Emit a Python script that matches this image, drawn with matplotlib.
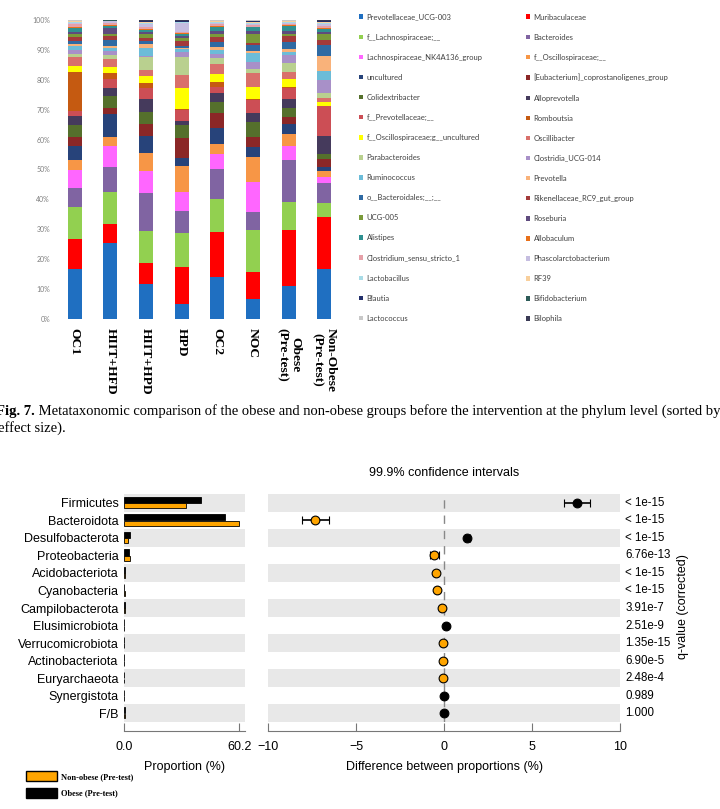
import numpy as np
import matplotlib.pyplot as plt
from matplotlib.patches import Patch
from matplotlib.transforms import blended_transform_factory

W, H = 720, 809

# ---------------- top: genus level relative abundance ----------------
genera = ['Prevotellaceae_UCG-003', 'Muribaculaceae', 'f__Lachnospiraceae;__', 'Bacteroides',
          'Lachnospiraceae_NK4A136_group', 'f__Oscillospiraceae;__', 'uncultured',
          '[Eubacterium]_coprostanoligenes_group', 'Colidextribacter', 'Alloprevotella',
          'f__Prevotellaceae;__', 'Romboutsia', 'f__Oscillospiraceae;g__uncultured', 'Oscillibacter',
          'Parabacteroides', 'Clostridia_UCG-014', 'Ruminococcus', 'Prevotella',
          'o__Bacteroidales;__;__', 'Rikenellaceae_RC9_gut_group', 'UCG-005', 'Roseburia',
          'Alistipes', 'Allobaculum', 'Clostridium_sensu_stricto_1', 'Phascolarctobacterium',
          'Lactobacillus', 'RF39', 'Blautia', 'Bifidobacterium', 'Lactococcus', 'Bilophila']
genus_colors = ['#1f6fc1', '#ff0000', '#92d050', '#8064a2', '#ff66ff', '#f79646', '#27437a',
                '#8b2727', '#55702c', '#453a5c', '#cc4e55', '#c55a11', '#ffff00', '#d9706b',
                '#b9d08f', '#a890c8', '#6cbcd8', '#f9b27a', '#2f6aa3', '#a33a3a', '#7a9a3a',
                '#5f4b7e', '#2f9090', '#e8701a', '#e6a0a8', '#c5bde0', '#a8dbe6', '#f8cf9c',
                '#232f6b', '#2d5b58', '#c8c8c8', '#3a3a55']
groups = ['OC1', 'HIIT+HFD', 'HIIT+HPD', 'HPD', 'OC2', 'NOC', 'Obese\n(Pre-test)', 'Non-Obese\n(Pre-test)']

oc1 = [16.6, 10.2, 10.6, 6.4, 6.2, 3.2, 4.8, 2.8, 4.0, 3.1, 1.8, 12.8, 2.2, 2.8, 1.1, 1.3,
       1.4, 0.6, 1.1, 1.3, 0.9, 0.9, 1.3, 0.3, 0.8, 0.5, 0.3, 0.2, 0.2, 0.1, 0.1, 0.1]
hiit_hfd = [25.3, 6.5, 10.8, 8.3, 7.1, 3.0, 7.6, 2.2, 3.8, 2.9, 2.7, 2.2, 2.0, 2.7, 1.2, 1.3,
            1.1, 0.8, 2.0, 1.1, 0.8, 2.0, 0.7, 0.2, 0.9, 0.4, 0.1, 0.1, 0.1, 0.05, 0.05, 0.1]
hiit_hpd = [11.7, 7.1, 10.7, 12.5, 7.5, 5.9, 5.8, 4.0, 3.9, 4.6, 3.5, 1.8, 2.3, 2.0, 4.2, 0.6,
            2.6, 1.3, 1.0, 1.0, 1.2, 0.8, 0.7, 0.3, 0.8, 0.7, 0.4, 0.3, 0.3, 0.1, 0.1, 0.3]
hpd = [5.0, 12.3, 11.4, 7.5, 6.3, 8.8, 2.5, 7.0, 4.1, 1.4, 3.8, 0.2, 7.2, 4.2, 6.0, 1.7,
       1.1, 0.3, 0.8, 1.7, 0.9, 0.5, 0.8, 0.2, 0.5, 2.9, 0.3, 0.2, 0.2, 0.1, 0.1, 0.2]
oc2 = [14.2, 14.8, 11.2, 9.9, 5.0, 3.4, 5.5, 4.8, 3.9, 2.8, 2.0, 1.9, 2.5, 3.4, 1.9, 1.4,
       1.4, 0.9, 1.6, 1.7, 1.1, 0.9, 1.6, 0.2, 0.6, 0.4, 0.3, 0.2, 0.2, 0.1, 0.1, 0.1]
noc = [6.6, 9.2, 14.0, 5.9, 10.0, 8.6, 3.1, 3.6, 5.0, 2.8, 4.4, 0.3, 4.2, 4.5, 1.4, 2.2,
       3.1, 0.8, 2.0, 0.5, 3.1, 1.1, 1.1, 0.3, 0.6, 0.4, 0.3, 0.3, 0.3, 0.1, 0.1, 0.1]
obese_pre = [11.0, 18.8, 9.3, 14.1, 4.8, 4.1, 3.1, 2.5, 3.1, 2.8, 3.9, 0.3, 2.4, 2.5, 3.1, 2.6,
             1.1, 1.0, 2.2, 2.0, 0.8, 0.8, 1.8, 0.2, 0.5, 0.3, 0.3, 0.2, 0.2, 0.1, 0.1, 0.1]
nonobese_pre = [16.7, 17.5, 4.5, 6.7, 1.9, 2.3, 1.3, 2.5, 1.8, 5.8, 10.0, 0.3, 1.3, 1.2, 1.7, 4.4,
                3.0, 5.1, 3.4, 1.9, 1.8, 0.8, 1.1, 0.3, 0.7, 0.4, 0.4, 0.3, 0.3, 0.2, 0.1, 0.2]

# ---------------- bottom: phylum level comparison ----------------
phyla = ['Firmicutes', 'Bacteroidota', 'Desulfobacterota', 'Proteobacteria', 'Acidobacteriota',
         'Cyanobacteria', 'Campilobacterota', 'Elusimicrobiota', 'Verrucomicrobiota',
         'Actinobacteriota', 'Euryarchaeota', 'Synergistota', 'F/B']
obese_prop = [40.1, 52.6, 3.2, 2.4, 0.3, 0.2, 0.5, 0.25, 0.1, 0.15, 0.05, 0.02, 0.3]
nonobese_prop = [32.5, 60.2, 1.9, 2.95, 0.75, 0.55, 0.65, 0.1, 0.17, 0.2, 0.07, 0.02, 0.3]
diff_mean = [7.56, -7.34, 1.33, -0.56, -0.43, -0.37, -0.14, 0.14, -0.07, -0.06, -0.03, 0.01, 0.0]
ci_low = [6.80, -8.07, 1.18, -0.82, -0.50, -0.42, -0.18, 0.12, -0.08, -0.07, -0.04, 0.0, -0.01]
ci_high = [8.30, -6.55, 1.48, -0.30, -0.36, -0.32, -0.10, 0.16, -0.06, -0.05, -0.02, 0.02, 0.01]
q_values = ['< 1e-15', '< 1e-15', '< 1e-15', '6.76e-13', '< 1e-15', '< 1e-15', '3.91e-7',
            '2.51e-9', '1.35e-15', '6.90e-5', '2.48e-4', '0.989', '1.000']

ORANGE = '#ffa500'
BAND = '#e8e8e8'
GREY = '#777777'
SANS = 'Liberation Sans'


def box(l, t, r, b):
    return [l / W, 1 - b / H, (r - l) / W, (b - t) / H]


fig = plt.figure(figsize=(W / 100, H / 100), dpi=100)

# stacked 100% bars
ax = fig.add_axes(box(57, 20, 342, 319))
data = np.array([oc1, hiit_hfd, hiit_hpd, hpd, oc2, noc, obese_pre, nonobese_pre])
data = data / data.sum(axis=1, keepdims=True)
x = np.arange(len(groups))
bottom = np.zeros(len(groups))
handles = []
for j, name in enumerate(genera):
    h = ax.bar(x, data[:, j], 0.39, bottom=bottom, color=genus_colors[j], linewidth=0, label=name)
    bottom += data[:, j]
    handles.append(h)
ax.set_xlim(-0.5, 7.5)
ax.set_ylim(0, 1)
ax.set_yticks(np.arange(0, 1.001, 0.1))
ax.set_yticklabels(['%d%%' % round(v * 100) for v in np.arange(0, 1.001, 0.1)],
                   fontsize=5, color='#7f7f7f', family='Lato')
ax.set_xticks(x)
ax.set_xticklabels(groups, rotation=-90, fontsize=9.7, fontweight='bold',
                   family='Liberation Serif', multialignment='center')
ax.tick_params(axis='both', length=0)
ax.tick_params(axis='y', pad=5)
ax.tick_params(axis='x', pad=6.5)
for s in ax.spines.values():
    s.set_visible(False)

# legend laid out row by row like the spreadsheet legend
leg_kw = dict(loc='upper left', frameon=False, borderpad=0, borderaxespad=0,
              handlelength=0.55, handleheight=0.55, handletextpad=0.45, labelspacing=1.71,
              labelcolor='#404040', prop=dict(family='Lato', size=5.5))
fig.legend(handles[0::2], genera[0::2], bbox_to_anchor=(359 / W, 1 - 13.5 / H), **leg_kw)
fig.legend(handles[1::2], genera[1::2], bbox_to_anchor=(526 / W, 1 - 13.5 / H), **leg_kw)

# caption
cap = dict(family='Liberation Serif', fontsize=10.5, va='center')
t1 = fig.text(-4 / W, 1 - 412 / H, 'Fig. 7.', fontweight='bold', **cap)
ax.annotate(' Metataxonomic comparison of the obese and non-obese groups before the intervention '
            'at the phylum level (sorted by', xy=(1, 0), xycoords=t1, ha='left', va='bottom',
            family='Liberation Serif', fontsize=10.5, annotation_clip=False)
fig.text(-2 / W, 1 - 428 / H, 'effect size).', **cap)

# proportions panel
y = np.arange(len(phyla))
ax_p = fig.add_axes(box(124, 494, 245, 722))
for i in y[::2]:
    ax_p.axhspan(i - 0.5, i + 0.5, color=BAND, lw=0, zorder=0)
ax_p.barh(y - 0.17, obese_prop, height=0.36, color='black', edgecolor='black', lw=0.6, zorder=2)
ax_p.barh(y + 0.16, nonobese_prop, height=0.28, color=ORANGE, edgecolor='black', lw=0.6, zorder=2)
ax_p.set_ylim(len(phyla) - 0.5, -0.5)
ax_p.set_xlim(0, 63.2)
ax_p.set_xticks([0, 60.2])
ax_p.set_xticklabels(['0.0', '60.2'])
ax_p.set_yticks(y)
ax_p.set_yticklabels(phyla, family=SANS, fontsize=9)
ax_p.tick_params(axis='y', length=0, pad=4)
ax_p.set_xlabel('Proportion (%)', family=SANS, fontsize=9, labelpad=6)

# difference panel
ax_d = fig.add_axes(box(268, 494, 620, 722))
for i in y[::2]:
    ax_d.axhspan(i - 0.5, i + 0.5, color=BAND, lw=0, zorder=0)
ax_d.axvline(0, color='#888888', ls=(0, (6, 5)), lw=1, zorder=1)
for i in y:
    c = 'black' if diff_mean[i] >= 0 else ORANGE
    ax_d.errorbar(diff_mean[i], i, xerr=[[diff_mean[i] - ci_low[i]], [ci_high[i] - diff_mean[i]]],
                  fmt='o', color=c, mec='black', mew=0.8, ms=6.3, ecolor='black',
                  elinewidth=1.2, capsize=3, capthick=1.2, zorder=3)
ax_d.set_ylim(len(phyla) - 0.5, -0.5)
ax_d.set_xlim(-10, 10)
ax_d.set_xticks([-10, -5, 0, 5, 10])
ax_d.set_yticks([])
ax_d.set_xlabel('Difference between proportions (%)', family=SANS, fontsize=9, labelpad=6)
tr = blended_transform_factory(ax_d.transAxes, ax_d.transData)
for i, q in enumerate(q_values):
    ax_d.text(1.015, i, q, transform=tr, va='center', ha='left', family=SANS, fontsize=8.3)
fig.text(444.5 / W, 1 - 472.7 / H, '99.9% confidence intervals', ha='center', va='center',
         family=SANS, fontsize=9)
fig.text(683 / W, 1 - 607 / H, 'q-value (corrected)', rotation=90, ha='center', va='center',
         family=SANS, fontsize=9)

for a in (ax_p, ax_d):
    for side in ('top', 'left', 'right'):
        a.spines[side].set_visible(False)
    a.spines['bottom'].set_position(('outward', 6.5))
    a.spines['bottom'].set_color(GREY)
    a.tick_params(axis='x', direction='in', length=6, color=GREY, labelsize=9, pad=7)
    for lab in a.get_xticklabels():
        lab.set_family(SANS)

# group legend
fig.legend([Patch(facecolor=ORANGE, edgecolor='black'), Patch(facecolor='black', edgecolor='black')],
           ['Non-obese (Pre-test)', 'Obese (Pre-test)'], loc='upper left',
           bbox_to_anchor=(26 / W, 1 - 771 / H), frameon=False, borderpad=0, borderaxespad=0,
           handlelength=3.7, handleheight=1.5, handletextpad=0.45, labelspacing=0.8,
           prop=dict(family='Liberation Serif', weight='bold', size=6))

fig.savefig('out.png', dpi=100)
